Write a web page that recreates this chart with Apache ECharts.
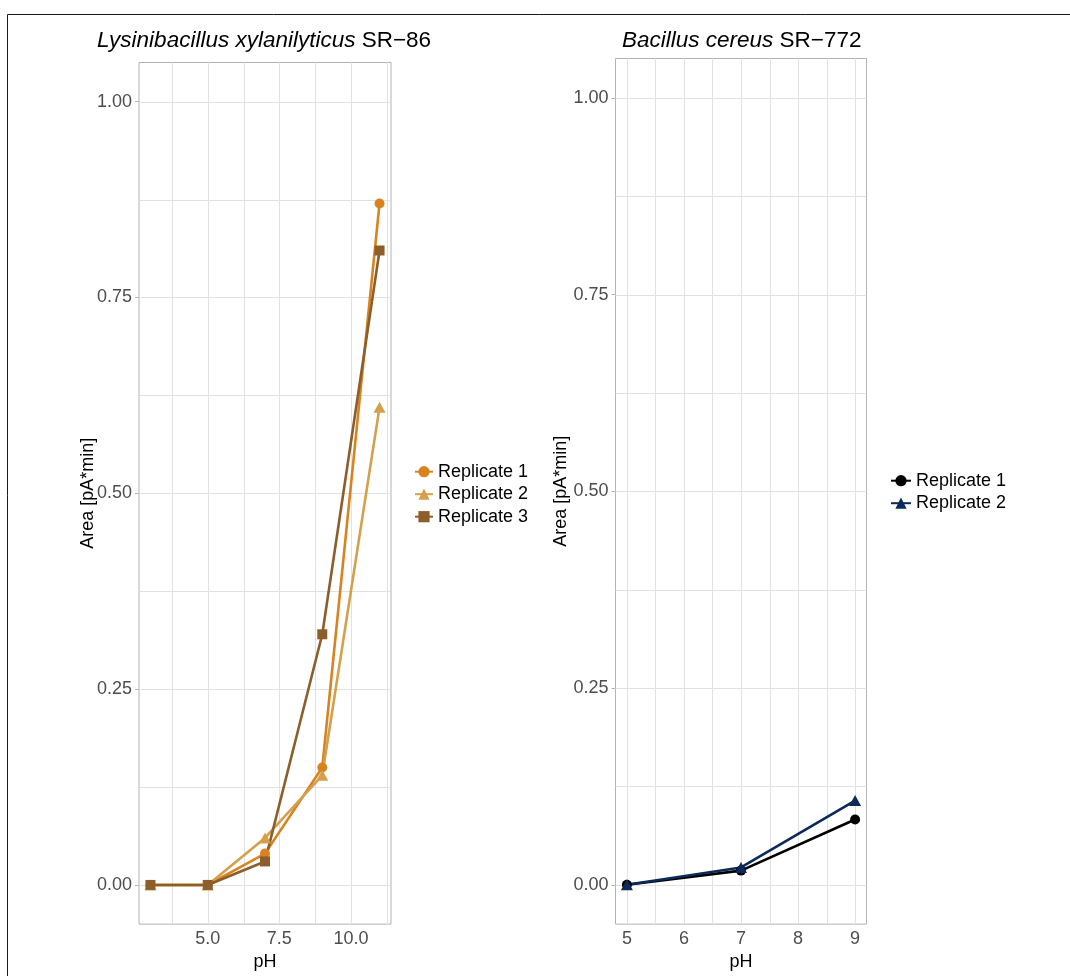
<!DOCTYPE html>
<html>
<head>
<meta charset="utf-8">
<script src="https://cdn.jsdelivr.net/npm/echarts@6/dist/echarts.min.js"></script>
<style>
  html, body { margin: 0; padding: 0; background: #ffffff; }
  #chart { width: 1070px; height: 976px; }
</style>
</head>
<body>
<div id="chart"></div>
<script>
// Peak area vs pH for two strains
const phLys = [3, 5, 7, 9, 11];
const lysRep1 = [0, 0, 0.04, 0.15, 0.87];
const lysRep2 = [0, 0, 0.06, 0.14, 0.61];
const lysRep3 = [0, 0, 0.03, 0.32, 0.81];

const phBac = [5, 7, 9];
const bacRep1 = [0, 0.018, 0.083];
const bacRep2 = [0, 0.022, 0.107];

const replicateNames = ['Replicate 1', 'Replicate 2', 'Replicate 3'];

// Axis breaks
const yBreaks = [0, 0.25, 0.5, 0.75, 1];
const yMinorBreaks = [0.125, 0.375, 0.625, 0.875];
const xBreaksLys = [5, 7.5, 10];
const xMinorBreaksLys = [3.75, 6.25, 8.75, 11.25];
const xBreaksBac = [5, 6, 7, 8, 9];
const xMinorBreaksBac = [5.5, 6.5, 7.5, 8.5];

const FONT = '"Liberation Sans", Arial, Helvetica, sans-serif';
const lysColors = ['#D8831F', '#D4A04C', '#8B5E2B'];
const bacColors = ['#000000', '#0B2A5A'];

function pairs(xs, ys) { return xs.map((x, i) => [x, ys[i]]); }

function gridLineData(xMajor, xMinor, yMajor, yMinor) {
  const d = [];
  xMajor.concat(xMinor).forEach(v => d.push([v, 0]));
  yMajor.concat(yMinor).forEach(v => d.push([v, 1]));
  return d;
}

// Panel grid lines drawn through the axis scales
function gridLineSeries(idx, data, xRef) {
  return {
    type: 'custom',
    xAxisIndex: idx,
    yAxisIndex: idx,
    silent: true,
    z: 1,
    data: data,
    renderItem: function (params, api) {
      const cs = params.coordSys;
      const v = api.value(0);
      const kind = api.value(1);
      let shape;
      if (kind === 0) {
        const x = Math.round(api.coord([v, 0])[0]) + 0.5;
        shape = { x1: x, y1: cs.y, x2: x, y2: cs.y + cs.height };
      } else {
        const y = Math.round(api.coord([xRef, v])[1]) + 0.5;
        shape = { x1: cs.x, y1: y, x2: cs.x + cs.width, y2: y };
      }
      return { type: 'line', shape: shape, style: { stroke: '#e1e1e1', lineWidth: 1 } };
    }
  };
}

function xAxisDef(idx, min, max, breaks, fmt) {
  return {
    gridIndex: idx, type: 'value', min: min, max: max,
    name: 'pH', nameLocation: 'middle', nameGap: 24,
    nameTextStyle: { fontFamily: FONT, fontSize: 18, color: '#000' },
    axisLine: { show: false },
    axisTick: { show: true, length: 4, lineStyle: { color: '#b3b3b3', width: 1 }, customValues: breaks },
    axisLabel: { customValues: breaks, formatter: fmt, margin: 6, fontFamily: FONT, fontSize: 18, color: '#4d4d4d' },
    splitLine: { show: false }
  };
}

function yAxisDef(idx, gap) {
  return {
    gridIndex: idx, type: 'value', min: -0.05, max: 1.05,
    name: 'Area [pA*min]', nameLocation: 'middle', nameGap: gap,
    nameMoveOverlap: false,
    nameTextStyle: { fontFamily: FONT, fontSize: 18, color: '#000' },
    axisLine: { show: false },
    axisTick: { show: true, length: 4, lineStyle: { color: '#b3b3b3', width: 1 }, customValues: yBreaks },
    axisLabel: { customValues: yBreaks, formatter: v => v.toFixed(2), margin: 7, fontFamily: FONT, fontSize: 18, color: '#4d4d4d' },
    splitLine: { show: false }
  };
}

function lineSeries(idx, name, data, color, symbol, size) {
  return {
    type: 'line', name: name, xAxisIndex: idx, yAxisIndex: idx,
    data: data, z: 3,
    symbol: symbol, symbolSize: size, showSymbol: true,
    lineStyle: { color: color, width: 2.6 },
    itemStyle: { color: color, borderWidth: 0 },
    emphasis: { disabled: true },
    animation: false
  };
}

const titleRich = {
  i: { fontFamily: FONT, fontSize: 22.5, fontStyle: 'italic', fontWeight: 'normal', color: '#000' },
  n: { fontFamily: FONT, fontSize: 22.5, fontWeight: 'normal', color: '#000' }
};

const chart = echarts.init(document.getElementById('chart'), null, { renderer: 'canvas' });

const option = {
  animation: false,
  backgroundColor: '#ffffff',
  graphic: [{
    type: 'rect', silent: true, z: 0,
    shape: { x: 7.5, y: 14.5, width: 1200, height: 1100 },
    style: { fill: 'none', stroke: '#1a1a1a', lineWidth: 1 }
  }],
  title: [
    {
      left: 97, top: 29, padding: 0,
      text: '{i|Lysinibacillus xylanilyticus}{n| SR\u221286}',
      textStyle: { fontWeight: 'normal', rich: titleRich }
    },
    {
      left: 622, top: 29, padding: 0,
      text: '{i|Bacillus cereus}{n| SR\u2212772}',
      textStyle: { fontWeight: 'normal', rich: titleRich }
    }
  ],
  grid: [
    { left: 139, top: 62.5, width: 252, height: 861.8, show: true, borderColor: '#b3b3b3', borderWidth: 1, backgroundColor: 'transparent', containLabel: false },
    { left: 615.5, top: 58.5, width: 251, height: 865.8, show: true, borderColor: '#b3b3b3', borderWidth: 1, backgroundColor: 'transparent', containLabel: false }
  ],
  xAxis: [
    xAxisDef(0, 2.6, 11.4, xBreaksLys, v => v.toFixed(1)),
    xAxisDef(1, 4.8, 9.2, xBreaksBac, v => String(v))
  ],
  yAxis: [yAxisDef(0, 42), yAxisDef(1, 45)],
  legend: [
    {
      orient: 'vertical', left: 414, top: 460.7, padding: 0, itemGap: 0.5,
      itemWidth: 18, itemHeight: 14, selectedMode: false,
      data: replicateNames.map(n => 'SR-86|' + n),
      formatter: n => n.split('|')[1],
      textStyle: { fontFamily: FONT, fontSize: 18, color: '#000', lineHeight: 22 }
    },
    {
      orient: 'vertical', left: 890, top: 469.7, padding: 0, itemGap: 0.5,
      itemWidth: 20, itemHeight: 14, selectedMode: false,
      data: replicateNames.slice(0, 2).map(n => 'SR-772|' + n),
      formatter: n => n.split('|')[1],
      textStyle: { fontFamily: FONT, fontSize: 18, color: '#000', lineHeight: 22 }
    }
  ],
  series: [
    gridLineSeries(0, gridLineData(xBreaksLys, xMinorBreaksLys, yBreaks, yMinorBreaks), 5),
    gridLineSeries(1, gridLineData(xBreaksBac, xMinorBreaksBac, yBreaks, yMinorBreaks), 5),
    lineSeries(0, 'SR-86|Replicate 1', pairs(phLys, lysRep1), lysColors[0], 'circle', 10),
    lineSeries(0, 'SR-86|Replicate 2', pairs(phLys, lysRep2), lysColors[1], 'triangle', [12, 11]),
    lineSeries(0, 'SR-86|Replicate 3', pairs(phLys, lysRep3), lysColors[2], 'rect', 10),
    lineSeries(1, 'SR-772|Replicate 1', pairs(phBac, bacRep1), bacColors[0], 'circle', 10),
    lineSeries(1, 'SR-772|Replicate 2', pairs(phBac, bacRep2), bacColors[1], 'triangle', [12, 11])
  ]
};

chart.setOption(option);
</script>
</body>
</html>
